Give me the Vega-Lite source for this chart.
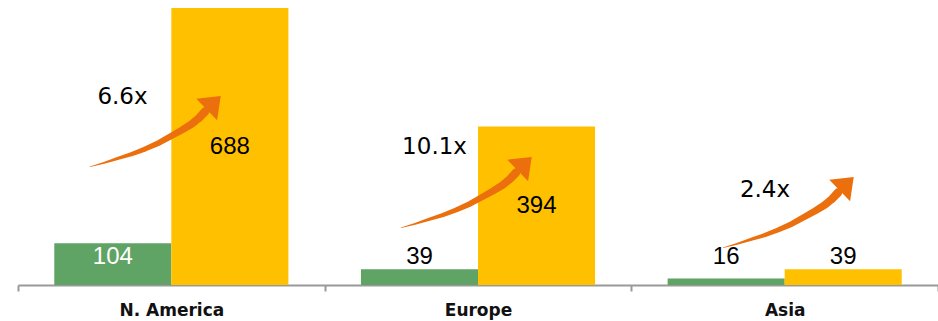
{
  "$schema": "https://vega.github.io/schema/vega-lite/v6.json",
  "autosize": "none",
  "width": 920,
  "height": 285,
  "padding": {"left": 18, "top": 0, "right": 0, "bottom": 36},
  "background": "white",
  "config": {"view": {"stroke": null}},
  "layer": [
    {
      "data": {"values": [
        {"region": "N. America", "series": "Series 1", "value": 104},
        {"region": "N. America", "series": "Series 2", "value": 688},
        {"region": "Europe", "series": "Series 1", "value": 39},
        {"region": "Europe", "series": "Series 2", "value": 394},
        {"region": "Asia", "series": "Series 1", "value": 16},
        {"region": "Asia", "series": "Series 2", "value": 39}
      ]},
      "layer": [
        {
          "mark": {"type": "bar"},
          "encoding": {
            "x": {"field": "region", "type": "nominal", "sort": ["N. America", "Europe", "Asia"],
                  "scale": {"paddingInner": 0, "paddingOuter": 0},
                  "axis": {"title": null, "labelAngle": 0, "tickBand": "extent",
                           "domainColor": "#999999", "domainWidth": 2, "tickColor": "#999999", "tickWidth": 2, "tickSize": 6,
                           "labelFont": "DejaVu Sans", "labelFontWeight": "bold", "labelFontSize": 17, "labelColor": "#111111", "labelPadding": 11}},
            "xOffset": {"field": "series", "type": "nominal", "scale": {"paddingInner": 0, "paddingOuter": 0.31}},
            "y": {"field": "value", "type": "quantitative", "scale": {"domain": [0, 708], "nice": false}, "axis": null},
            "color": {"field": "series", "type": "nominal", "scale": {"domain": ["Series 1", "Series 2"], "range": ["#5FA365", "#FFC000"]}, "legend": null}
          }
        },
        {
          "transform": [{"calculate": "max(datum.value / 2, 70)", "as": "labelPos"}],
          "mark": {"type": "text", "font": "Liberation Sans", "fontSize": 24, "baseline": "middle", "align": "center"},
          "encoding": {
            "x": {"field": "region", "type": "nominal", "sort": ["N. America", "Europe", "Asia"]},
            "xOffset": {"field": "series", "type": "nominal"},
            "y": {"field": "labelPos", "type": "quantitative"},
            "text": {"field": "value", "type": "quantitative"},
            "color": {"condition": {"test": "datum.series === 'Series 1' && datum.value > 90", "value": "#ffffff"}, "value": "#000000"}
          }
        }
      ]
    },
    {
      "data": {"values": [
        {"region": "N. America", "t": 0, "pos": 0.2348, "level": 293.8},
        {"region": "N. America", "t": 0.16, "pos": 0.2804, "level": 303.5},
        {"region": "N. America", "t": 0.32, "pos": 0.3271, "level": 314.7},
        {"region": "N. America", "t": 0.45, "pos": 0.3717, "level": 325.4},
        {"region": "N. America", "t": 0.57, "pos": 0.4141, "level": 337.8},
        {"region": "N. America", "t": 0.66, "pos": 0.4598, "level": 353.2},
        {"region": "N. America", "t": 0.75, "pos": 0.5012, "level": 370.8},
        {"region": "N. America", "t": 0.82, "pos": 0.5348, "level": 385.0},
        {"region": "N. America", "t": 0.88, "pos": 0.5664, "level": 399.9},
        {"region": "N. America", "t": 0.94, "pos": 0.5902, "level": 414.8},
        {"region": "N. America", "t": 1, "pos": 0.6098, "level": 430.9},
        {"region": "Europe", "t": 0, "pos": 1.2489, "level": 142.3},
        {"region": "Europe", "t": 0.16, "pos": 1.2945, "level": 152.0},
        {"region": "Europe", "t": 0.32, "pos": 1.3412, "level": 163.2},
        {"region": "Europe", "t": 0.45, "pos": 1.3858, "level": 173.9},
        {"region": "Europe", "t": 0.57, "pos": 1.4282, "level": 186.3},
        {"region": "Europe", "t": 0.66, "pos": 1.4739, "level": 201.7},
        {"region": "Europe", "t": 0.75, "pos": 1.5153, "level": 219.3},
        {"region": "Europe", "t": 0.82, "pos": 1.5489, "level": 233.5},
        {"region": "Europe", "t": 0.88, "pos": 1.5805, "level": 248.4},
        {"region": "Europe", "t": 0.94, "pos": 1.6043, "level": 263.3},
        {"region": "Europe", "t": 1, "pos": 1.6239, "level": 279.4},
        {"region": "Asia", "t": 0, "pos": 2.2989, "level": 92.6},
        {"region": "Asia", "t": 0.16, "pos": 2.3445, "level": 102.3},
        {"region": "Asia", "t": 0.32, "pos": 2.3912, "level": 113.5},
        {"region": "Asia", "t": 0.45, "pos": 2.4358, "level": 124.2},
        {"region": "Asia", "t": 0.57, "pos": 2.4782, "level": 136.6},
        {"region": "Asia", "t": 0.66, "pos": 2.5239, "level": 152.0},
        {"region": "Asia", "t": 0.75, "pos": 2.5653, "level": 169.6},
        {"region": "Asia", "t": 0.82, "pos": 2.5989, "level": 183.8},
        {"region": "Asia", "t": 0.88, "pos": 2.6305, "level": 198.7},
        {"region": "Asia", "t": 0.94, "pos": 2.6543, "level": 213.6},
        {"region": "Asia", "t": 1, "pos": 2.6739, "level": 229.7}
      ]},
      "mark": {"type": "trail", "color": "#EC6F0E"},
      "encoding": {
        "x": {"field": "pos", "type": "quantitative", "scale": {"domain": [0, 3], "nice": false, "zero": false}, "axis": null},
        "y": {"field": "level", "type": "quantitative"},
        "detail": {"field": "region", "type": "nominal"},
        "order": {"field": "t", "type": "quantitative"},
        "size": {"field": "t", "type": "quantitative", "scale": {"domain": [0, 1], "range": [0.5, 8.5]}, "legend": null}
      }
    },
    {
      "data": {"values": [
        {"region": "N. America", "pos": 0.6382, "level": 452.8},
        {"region": "Europe", "pos": 1.6523, "level": 301.3},
        {"region": "Asia", "pos": 2.7023, "level": 251.6}
      ]},
      "mark": {"type": "point", "shape": "M -1 0.65 L 0 -0.65 L 1 0.65 Z", "filled": true, "size": 900, "angle": 46, "color": "#EC6F0E", "opacity": 1, "strokeWidth": 0},
      "encoding": {
        "x": {"field": "pos", "type": "quantitative", "scale": {"domain": [0, 3], "nice": false, "zero": false}, "axis": null},
        "y": {"field": "level", "type": "quantitative"}
      }
    },
    {
      "data": {"values": [
        {"label": "6.6x", "pos": 0.3408, "level": 468.2},
        {"label": "10.1x", "pos": 1.3582, "level": 344.0},
        {"label": "2.4x", "pos": 2.4359, "level": 236.0}
      ]},
      "mark": {"type": "text", "font": "DejaVu Sans", "fontSize": 23, "baseline": "middle", "align": "center", "color": "#000000"},
      "encoding": {
        "x": {"field": "pos", "type": "quantitative", "scale": {"domain": [0, 3], "nice": false, "zero": false}, "axis": null},
        "y": {"field": "level", "type": "quantitative"},
        "text": {"field": "label", "type": "nominal"}
      }
    }
  ],
  "resolve": {"scale": {"x": "independent"}}
}
